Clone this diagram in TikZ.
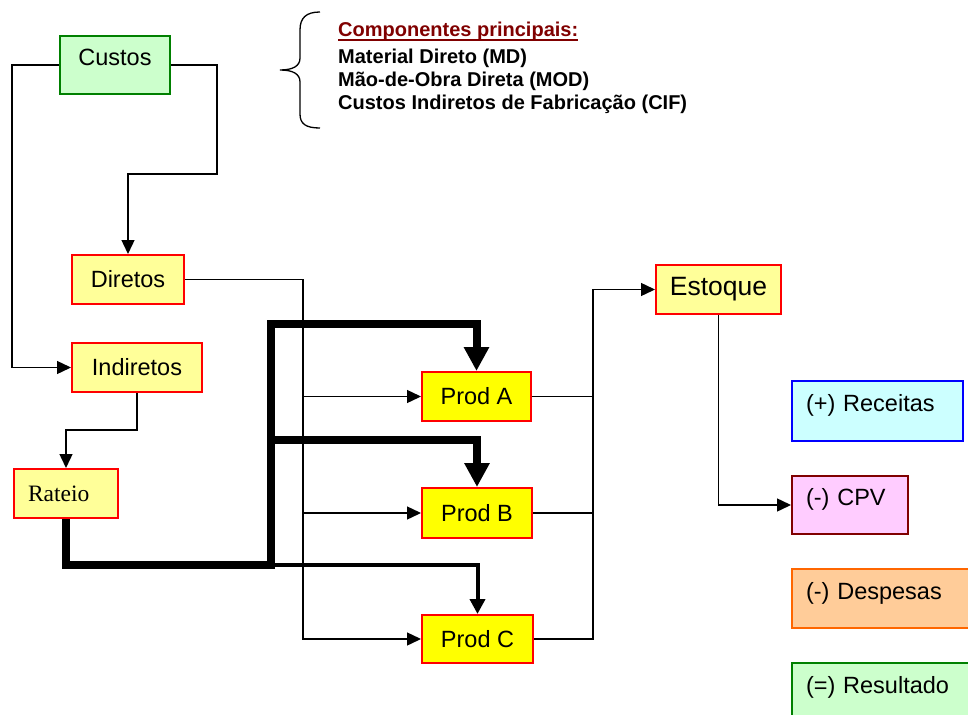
\documentclass[tikz,border=0pt]{standalone}
\usepackage{fontspec}
\setmainfont{Liberation Sans}
\newfontfamily\timesfont{Liberation Serif}
\usetikzlibrary{arrows.meta,calc}
\definecolor{gfill}{HTML}{CCFFCC}
\definecolor{gdraw}{HTML}{008000}
\definecolor{lyfill}{HTML}{FFFF99}
\definecolor{yfill}{HTML}{FFFF00}
\definecolor{rdraw}{HTML}{FF0000}
\definecolor{cfill}{HTML}{CCFFFF}
\definecolor{bdraw}{HTML}{0000FF}
\definecolor{pfill}{HTML}{FFCCFF}
\definecolor{mdraw}{HTML}{800000}
\definecolor{ofill}{HTML}{FFCC99}
\definecolor{odraw}{HTML}{FF6600}
\begin{document}
\begin{tikzpicture}[x=1pt,y=-1pt,
  box/.style={draw, line width=2pt, rectangle, inner sep=0pt,
    font=\fontsize{23.5}{28}\selectfont},
  lybox/.style={box, fill=lyfill, draw=rdraw},
  ybox/.style={box, fill=yfill, draw=rdraw},
  topbox/.style={text height=16pt, text depth=15pt},
  leftbox/.style={align=left, inner xsep=14pt, text width=#1},
  conn/.style={line width=1.4pt, draw=black},
  tarrow/.style={-{Triangle[length=14pt,width=13pt]}},
  thick path/.style={line width=8pt, line join=miter},
  bigarrow/.style={-{Triangle[length=24pt,width=24pt]}},
  midarrow/.style={line width=4pt, -{Triangle[length=15pt,width=15pt]}},
  comptext/.style={anchor=base west, inner sep=0pt,
    font=\fontsize{20}{23}\selectfont\bfseries}
]
\useasboundingbox (0,0) rectangle (968,714);
\clip (0,0) rectangle (968,714);

% nodes
\node[box, fill=gfill, draw=gdraw, topbox, minimum width=110pt, minimum height=58pt] (custos) at (115,65) {Custos};
\node[lybox, minimum width=112pt, minimum height=49pt] (diretos) at (128,279.5) {Diretos};
\node[lybox, minimum width=130pt, minimum height=49pt] (indiretos) at (137,367.5) {Indiretos};
\node[lybox, leftbox=76pt, minimum height=49pt, font=\fontsize{23.5}{28}\timesfont] (rateio) at (66,493.5) {Rateio};
\node[ybox, minimum width=109pt, minimum height=49pt] (prodA) at (476.5,396.5) {Prod A};
\node[ybox, minimum width=110pt, minimum height=50pt] (prodB) at (477,513) {Prod B};
\node[ybox, minimum width=111pt, minimum height=48pt] (prodC) at (477.5,639) {Prod C};
\node[lybox, minimum width=125pt, minimum height=49pt, font=\fontsize{26.5}{30}\selectfont] (estoque) at (718.5,289.5) {Estoque};
\node[box, fill=cfill, draw=bdraw, topbox, leftbox=143pt, minimum height=60pt] (receitas) at (877.5,411) {(+) Receitas};
\node[box, fill=pfill, draw=mdraw, topbox, leftbox=88pt, minimum height=58pt] (cpv) at (850,505) {(-) CPV};
\node[box, fill=ofill, draw=odraw, topbox, leftbox=150pt, minimum height=59pt] (despesas) at (881,598.5) {(-) Despesas};
\node[box, fill=gfill, draw=gdraw, topbox, leftbox=155pt, minimum height=60pt] (resultado) at (883.5,693) {(=) Resultado};

% components text
\node[comptext, text=mdraw] (comp0) at (338,36.5) {Componentes principais:};
\draw[mdraw, line width=2.2pt] ([yshift=-3.5pt]comp0.base west) -- ([yshift=-3.5pt]comp0.base east);
\node[comptext] (comp1) at (338,63.5) {Material Direto (MD)};
\node[comptext] (comp2) at (338,86.5) {Mão-de-Obra Direta (MOD)};
\node[comptext] (comp3) at (338,109.5) {Custos Indiretos de Fabricação (CIF)};

% brace
\draw[line width=1.3pt] (320,12) .. controls (306,12) and (300,18) .. (300,30) -- (300,58)
  .. controls (300,66) and (293,70) .. (280,70)
  .. controls (293,70) and (300,74) .. (300,82) -- (300,114)
  .. controls (300,124) and (306,128) .. (320,128);

% bus coordinates
\coordinate (lbus) at (12,65);
\coordinate (rbus) at (217,174);
\coordinate (ibend) at (66,430);
\coordinate (dbus) at (303,279.5);
\coordinate (ebus) at (593,289.5);
\coordinate (tk1) at (66,565);
\coordinate (tk2) at (271,565);
\coordinate (tk3) at (271,324);
\coordinate (tkB) at (271,440);

% thin connectors
\draw[conn, tarrow] (custos.west) -- (lbus) |- (indiretos.west);
\draw[conn, tarrow] (custos.east) -| (rbus) -| (diretos.north);
\draw[conn, tarrow] (indiretos.south) |- (ibend) -- (rateio.north);
\draw[conn, tarrow] (diretos.east) -- (dbus) |- (prodC.west);
\draw[conn, tarrow] (dbus |- prodA.west) -- (prodA.west);
\draw[conn, tarrow] (dbus |- prodB.west) -- (prodB.west);
\draw[conn, tarrow] (prodC.east) -| (ebus) -- (estoque.west);
\draw[conn] (prodA.east) -- (prodA.east -| ebus);
\draw[conn] (prodB.east) -- (prodB.east -| ebus);
\draw[conn, tarrow] (estoque.south) |- (cpv.west);

% thick rateio paths
\draw[midarrow] (tk2) -| (prodC.north);
\draw[thick path, bigarrow] (rateio.south) -- (tk1) -- (tk2) -- (tk3) -| (prodA.north);
\draw[thick path, bigarrow] (tkB) -| (prodB.north);
\end{tikzpicture}
\end{document}
